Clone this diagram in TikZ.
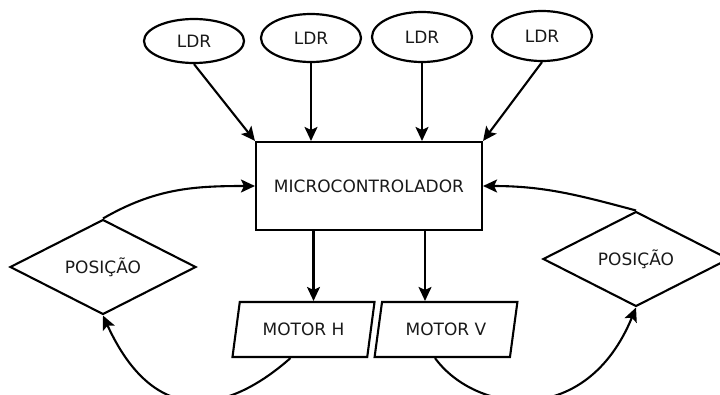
\documentclass[tikz,border=0pt]{standalone}
\usepackage{fontspec}
\setmainfont{DejaVu Sans}
\usetikzlibrary{shapes.geometric,arrows.meta,calc}
\begin{document}
\begin{tikzpicture}[x=1pt,y=1pt,
  every node/.style={font=\fontsize{17}{20}\selectfont, text=black!90},
  ldr/.style={ellipse, draw, line width=2.2pt, inner sep=0pt,
    minimum width=100pt, minimum height=48pt},
  ctrl/.style={rectangle, draw, line width=2.1pt,
    minimum width=226pt, minimum height=88pt},
  motor/.style={trapezium, trapezium left angle=70, trapezium right angle=110,
    trapezium stretches=true, draw, line width=2.1pt, inner sep=0pt,
    minimum width=143pt, minimum height=55pt},
  posbox/.style={diamond, draw, line width=2.1pt, inner sep=0pt,
    minimum width=186pt, minimum height=94pt},
  arr/.style={line width=2.1pt, -{Stealth[length=14pt,width=13pt,inset=3pt]}}
]
\useasboundingbox (0,0) rectangle (720,-394);
\clip (0,0) rectangle (720,-394);

% sensors
\node[ldr, minimum height=44pt] (l1) at (194,-41) {LDR};
\node[ldr] (l2) at (311,-38) {LDR};
\node[ldr, minimum height=50pt] (l3) at (422,-37) {LDR};
\node[ldr, minimum height=50pt] (l4) at (542,-36) {LDR};

% controller, motors and position feedback
\node[ctrl] (mc) at (369,-186) {MICROCONTROLADOR};
\node[motor] (mh) at (303.5,-329.5) {MOTOR H};
\node[motor] (mv) at (446,-329.5) {MOTOR V};
\node[posbox] (p1) at (103,-267) {POSIÇÃO};
\node[posbox] (p2) at (636,-259) {POSIÇÃO};

% sensor inputs
\draw[arr] (l1.south) -- (mc.north west);
\draw[arr] (l2.south) -- (l2.south |- mc.north);
\draw[arr] (l3.south) -- (l3.south |- mc.north);
\draw[arr] (l4.south) -- (mc.north east);

% controller outputs
\coordinate (hin) at ([xshift=10pt]mh.north);
\coordinate (vin) at ([xshift=-21pt]mv.north);
\draw[arr] (mc.south -| hin) -- (hin);
\draw[arr] (mc.south -| vin) -- (vin);

% motors to position
\coordinate (hout) at ([xshift=-13pt]mh.south);
\coordinate (vout) at ([xshift=-11pt]mv.south);
\draw[arr] (hout) .. controls +(-60,-53) and +(53,-116) .. (p1.south);
\draw[arr] (vout) .. controls +(40,-55) and +(-50,-122) .. (p2.south);

% position back to controller
\draw[arr] (p1.north) to[out=30,in=180] (mc.west);
\draw[arr] (p2.north) to[out=165,in=0] (mc.east);
\end{tikzpicture}
\end{document}
